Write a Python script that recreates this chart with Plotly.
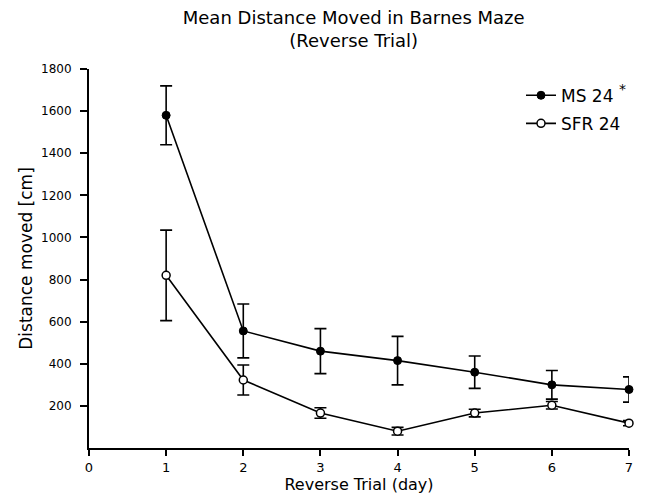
import plotly.graph_objects as go

days = [1, 2, 3, 4, 5, 6, 7]
ms24_mean = [1580, 556, 460, 415, 360, 300, 278]
ms24_err = [140, 128, 107, 115, 77, 68, 60]
sfr24_mean = [820, 323, 166, 80, 166, 203, 118]
sfr24_err = [215, 71, 25, 18, 18, 18, 12]
y_ticks = [200, 400, 600, 800, 1000, 1200, 1400, 1600, 1800]
x_ticks = [0, 1, 2, 3, 4, 5, 6, 7]

text_font = "DejaVu Sans, Liberation Sans, sans-serif"

fig = go.Figure()
fig.add_trace(go.Scatter(
    x=days, y=ms24_mean, name="MS 24 <span style='font-size:20px'><sup>*</sup></span>",
    mode="lines+markers", legendgroup="ms",
    line=dict(color="black", width=1.6),
    marker=dict(symbol="circle", size=8, color="black", line=dict(color="black", width=1)),
    error_y=dict(type="data", array=ms24_err, color="black", thickness=1.6, width=6),
    cliponaxis=False,
))
fig.add_trace(go.Scatter(
    x=days, y=sfr24_mean, name="SFR 24", mode="lines+markers", legendgroup="sfr",
    line=dict(color="black", width=1.6),
    marker=dict(symbol="circle", size=8, color="white", line=dict(color="black", width=1.5)),
    error_y=dict(type="data", array=sfr24_err, color="black", thickness=1.6, width=6),
    cliponaxis=False,
))

# the page body adds an 8px offset, so the figure is 8px smaller with margins shifted
fig.update_layout(
    width=639, height=495,
    margin=dict(l=81, r=18, t=61, b=55),
    paper_bgcolor="white", plot_bgcolor="white",
    font=dict(family=text_font, color="black", size=12),
    title=dict(text="Mean Distance Moved in Barnes Maze<br>(Reverse Trial)",
               x=0.541, xanchor="center", y=0.968, yanchor="top",
               font=dict(size=18, family=text_font)),
    showlegend=True,
    legend=dict(x=0.8, y=0.977, xanchor="left", yanchor="top",
                bgcolor="rgba(0,0,0,0)", font=dict(size=17, family=text_font),
                tracegroupgap=3),
    xaxis=dict(range=[0, 7], tickvals=x_ticks, ticktext=[str(v) for v in x_ticks],
               showline=True, linecolor="black", linewidth=2,
               ticks="outside", ticklen=6, tickwidth=2, tickcolor="black",
               showgrid=False, zeroline=False, automargin=False,
               title=dict(text="Reverse Trial (day)", font=dict(size=16, family=text_font), standoff=4),
               tickfont=dict(size=13)),
    yaxis=dict(range=[0, 1800], tickvals=y_ticks, ticktext=[str(v) for v in y_ticks],
               showline=True, linecolor="black", linewidth=2,
               ticks="outside", ticklen=7, tickwidth=2, tickcolor="black",
               ticklabelstandoff=6,
               showgrid=False, zeroline=False, automargin=False,
               title=dict(text="Distance moved [cm]", font=dict(size=17, family=text_font), standoff=4),
               tickfont=dict(size=12)),
)

fig.write_html("out.html")
